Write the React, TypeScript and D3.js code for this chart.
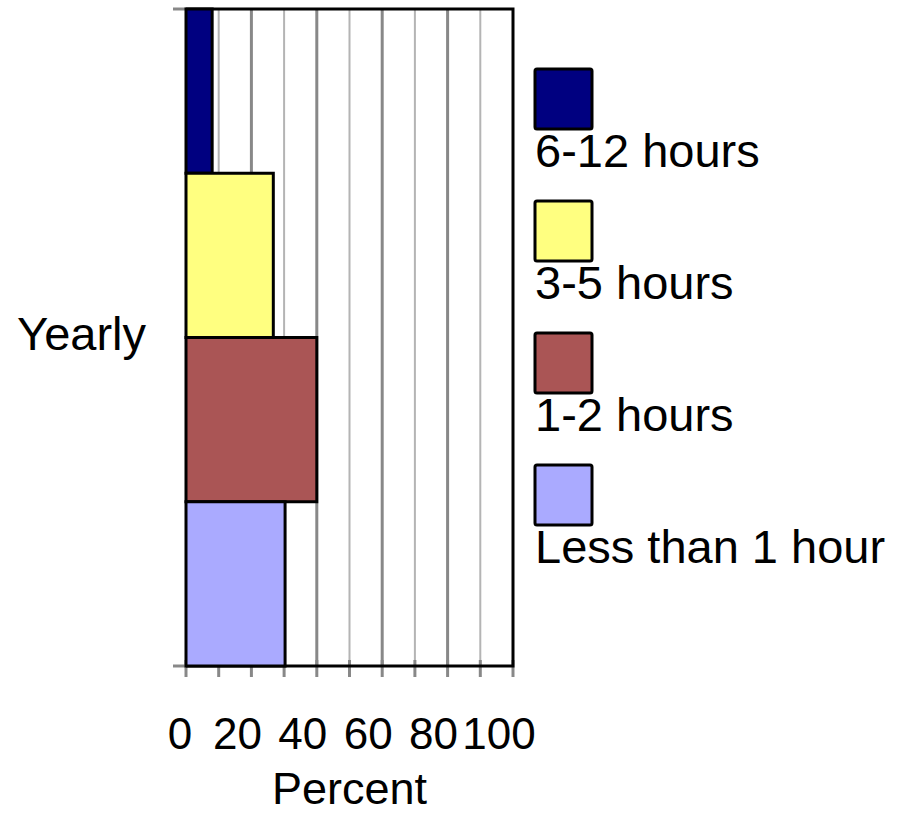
import { useEffect, useRef } from "react";
import * as d3 from "d3";

const categories = ["Yearly"];
const seriesNames = ["6-12 hours", "3-5 hours", "1-2 hours", "Less than 1 hour"];
const seriesValues = [8, 26.7, 40, 30.3];
const seriesColors = ["#000080", "#FFFF80", "#AA5555", "#AAAAFF"];
const tickLabels = [0, 20, 40, 60, 80, 100];

export default function App() {
  const svgRef = useRef<SVGSVGElement | null>(null);

  useEffect(() => {
    if (!svgRef.current) return;
    const svg = d3.select(svgRef.current);
    svg.selectAll("*").remove();

    const width = 900;
    const height = 814;
    const margin = { top: 9, right: 387, bottom: 148, left: 186 };
    const font = "Arial, 'Liberation Sans', sans-serif";

    svg.attr("width", width).attr("height", height);

    const x = d3.scaleLinear().domain([0, 100]).range([margin.left, width - margin.right]);
    const y0 = d3
      .scaleBand<string>()
      .domain(categories)
      .range([margin.top, height - margin.bottom])
      .padding(0);
    const y1 = d3
      .scaleBand<string>()
      .domain(seriesNames)
      .range([0, y0.bandwidth()])
      .padding(0);

    const bottom = height - margin.bottom;
    const right = width - margin.right;

    // gridlines
    const gridVals = d3.range(10, 100, 10);
    svg
      .append("g")
      .selectAll("line")
      .data(gridVals)
      .enter()
      .append("line")
      .attr("x1", (d) => x(d))
      .attr("x2", (d) => x(d))
      .attr("y1", margin.top)
      .attr("y2", bottom)
      .attr("stroke", (d) => (d % 20 === 0 ? "#888888" : "#b4b4b4"))
      .attr("stroke-width", (d) => (d % 20 === 0 ? 3 : 2));

    // tick marks on x axis
    svg
      .append("g")
      .selectAll("line")
      .data(d3.range(0, 101, 10))
      .enter()
      .append("line")
      .attr("x1", (d) => x(d))
      .attr("x2", (d) => x(d))
      .attr("y1", bottom - 6)
      .attr("y2", bottom + 11)
      .attr("stroke", "#888888")
      .attr("stroke-width", 3);

    // y ticks
    [margin.top, bottom].forEach((yy) => {
      svg
        .append("line")
        .attr("x1", margin.left - 13)
        .attr("x2", margin.left)
        .attr("y1", yy)
        .attr("y2", yy)
        .attr("stroke", "#888888")
        .attr("stroke-width", 3);
    });

    // frame: top and right black, bottom axis
    svg
      .append("path")
      .attr("d", `M${margin.left},${margin.top}H${right}V${bottom}H${margin.left}`)
      .attr("fill", "none")
      .attr("stroke", "#000")
      .attr("stroke-width", 3);

    // bars
    categories.forEach((cat) => {
      const g = svg.append("g").attr("transform", `translate(0,${y0(cat)})`);
      g.selectAll("rect")
        .data(seriesNames)
        .enter()
        .append("rect")
        .attr("x", x(0))
        .attr("y", (d) => y1(d)!)
        .attr("width", (_, i) => x(seriesValues[i]) - x(0))
        .attr("height", y1.bandwidth())
        .attr("fill", (_, i) => seriesColors[i])
        .attr("stroke", "#000")
        .attr("stroke-width", 3);
    });

    // category label
    categories.forEach((cat) => {
      svg
        .append("text")
        .attr("x", 146)
        .attr("y", y0(cat)! + y0.bandwidth() / 2 + 12)
        .attr("text-anchor", "end")
        .style("font-family", font)
        .style("font-size", "47px")
        .text(cat);
    });

    // x tick labels
    svg
      .append("g")
      .selectAll("text")
      .data(tickLabels)
      .enter()
      .append("text")
      .attr("x", (d) => (d === 0 ? x(d) - 6 : x(d) - 14))
      .attr("y", 749)
      .attr("text-anchor", "middle")
      .style("font-family", font)
      .style("font-size", "44px")
      .text((d) => d);

    svg
      .append("text")
      .attr("x", (margin.left + right) / 2)
      .attr("y", 804)
      .attr("text-anchor", "middle")
      .style("font-family", font)
      .style("font-size", "45px")
      .text("Percent");

    // legend
    const legend = svg.append("g").attr("transform", "translate(535,69)");
    seriesNames.forEach((name, i) => {
      const lg = legend.append("g").attr("transform", `translate(0,${i * 132})`);
      lg.append("rect")
        .attr("width", 57)
        .attr("height", 60)
        .attr("rx", 2)
        .attr("fill", seriesColors[i])
        .attr("stroke", "#000")
        .attr("stroke-width", 3);
      lg.append("text")
        .attr("x", 0)
        .attr("y", 98)
        .style("font-family", font)
        .style("font-size", "47px")
        .text(name);
    });
  }, []);

  return (
    <svg
      ref={svgRef}
      style={{ position: "absolute", left: 0, top: 0, background: "#fff" }}
    ></svg>
  );
}
